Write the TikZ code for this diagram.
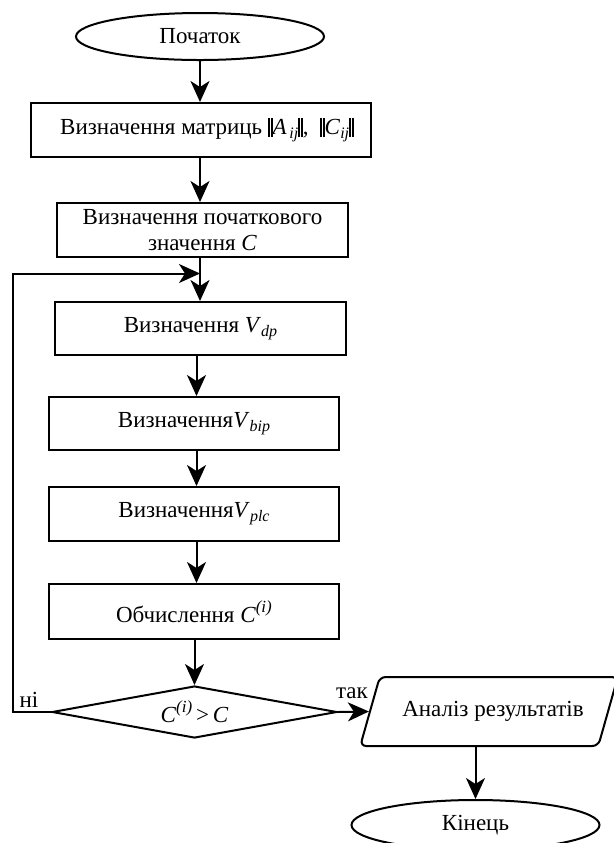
\documentclass[tikz,border=0pt]{standalone}
\usepackage{fontspec}
\setmainfont{Liberation Serif}
\usetikzlibrary{shapes.geometric,arrows.meta}
% italic symbol with a lowered italic index
\newcommand{\lowidx}[2]{\textit{#1}\raisebox{-0.35ex}{\fontsize{8}{8}\selectfont\itshape #2}}
% italic symbol with a raised italic index
\newcommand{\supidx}[2]{\textit{#1}\raisebox{0.95ex}{\fontsize{8.5}{8.5}\selectfont\itshape #2}}
% double bar of a matrix norm
\newcommand{\normbar}{\rule[-0.1em]{0.8pt}{0.82em}\kern0.7pt\rule[-0.1em]{0.8pt}{0.82em}}
\begin{document}
\begin{tikzpicture}[x=0.5pt,y=-0.5pt,
  every node/.style={font=\fontsize{11.5}{13}\selectfont},
  box/.style={draw, line width=1pt, inner sep=0pt, align=center},
  term/.style={ellipse, draw, line width=1pt, inner sep=0pt,
    minimum width=124pt, minimum height=23.5pt},
  arr/.style={line width=1pt, -{Stealth[length=10.5pt,width=9.5pt,inset=3pt]}},
  lnk/.style={line width=1pt}]
\useasboundingbox (0,0) rectangle (614,843);

% main column
\node[term] (start) at (200,36.5) {Початок};
\node[box, minimum width=170pt, minimum height=27pt] (b1) at (201,130)
  {\hspace{6pt}Визначення матриць \normbar\lowidx{A}{\,ij}\normbar,\ \ \normbar\lowidx{C}{ij}\normbar};
\node[box, minimum width=145.5pt, minimum height=27pt] (b2) at (202.5,230)
  {Визначення початкового\\значення \textit{C}};
\node[box, minimum width=145.5pt, minimum height=26.5pt] (b3) at (200.5,328.5)
  {Визначення \lowidx{V}{dp}};
\node[box, minimum width=145pt, minimum height=26.5pt] (b4) at (194,423.5)
  {Визначення\lowidx{V}{bip}};
\node[box, minimum width=145pt, minimum height=27pt] (b5) at (194,514)
  {Визначення\lowidx{V}{plc}};
\node[box, minimum width=145pt, minimum height=27.5pt] (b6) at (194,611.5)
  {Обчислення \supidx{C}{(i)}};
\node[diamond, draw, line width=1pt, inner sep=0pt, aspect=5,
  minimum width=142.5pt, minimum height=26pt] (dia) at (194.5,712)
  {\supidx{C}{(i)}\,>\,\textit{C}};

% output and end
\node[trapezium, draw, line width=1pt, inner sep=0pt, rounded corners=3pt,
  trapezium left angle=50, trapezium right angle=130, trapezium stretches=true,
  minimum width=129pt, minimum height=34.5pt] (para) at (489,711.5)
  {\hspace{4pt}Аналіз результатів};
\node[term, minimum height=25pt] (fin) at (475.5,825) {\raisebox{-2pt}{Кінець}};

% column x positions of the connectors
\coordinate (xa) at (200,0);
\coordinate (xb) at (196.5,0);
\coordinate (xc) at (194.5,0);
\coordinate (lp) at (13,0);

\draw[arr] (start.south -| xa) -- (b1.north -| xa);
\draw[arr] (b1.south -| xa) -- (b2.north -| xa);
\draw[arr] (b2.south -| xa) -- (b3.north -| xa);
\draw[arr] (b3.south -| xb) -- (b4.north -| xb);
\draw[arr] (b4.south -| xb) -- (b5.north -| xb);
\draw[arr] (b5.south -| xb) -- (b6.north -| xb);
\draw[arr] (b6.south -| xc) -- (dia.north);

% loop back when the condition fails
\coordinate (jn) at (200,273.5);
\draw[arr] (dia.west) -- (dia.west -| lp) -- (lp |- jn) -- (jn);
\node (no) at (29,700) {ні};

% exit when the condition holds
\draw[arr] (dia.east) -- (para.west);
\node (yes) at (352,693) {так};
\draw[arr] (fin.north |- para.south) -- (fin.north);
\end{tikzpicture}
\end{document}
